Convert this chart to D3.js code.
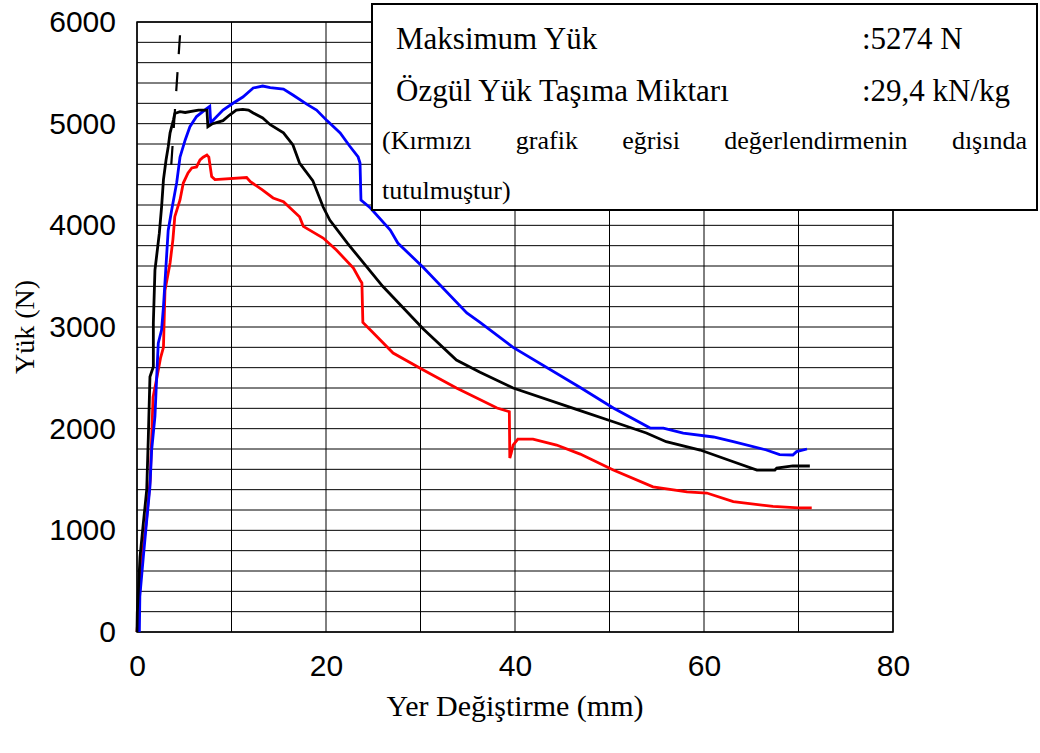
<!DOCTYPE html>
<html>
<head>
<meta charset="utf-8">
<script src="https://cdn.jsdelivr.net/npm/d3@7"></script>
<style>
  html, body { margin: 0; padding: 0; background: #fff; }
  svg { display: block; }
</style>
</head>
<body>
<svg id="chart" width="1040" height="753"></svg>
<script>
// Load–displacement curves (x: displacement in mm, y: load in N)
const blueX = [0.25, 0.3, 0.67, 1.0, 1.37, 1.55, 1.9, 2.08, 2.25, 2.6, 2.8, 3.3, 3.67, 4.2, 4.55, 5.1, 5.6, 6.3, 7.4, 7.7, 7.8, 9.1, 10.2, 11.2, 12.3, 13.3, 14.1, 15.5, 16.5, 18.0, 19.0, 20.1, 21.5, 22.5, 23.4, 23.6, 23.7, 24.7, 26.8, 27.6, 30.3, 34.9, 36.3, 39.8, 46.9, 50.4, 54.3, 55.7, 57.8, 61.0, 63.1, 66.6, 68.0, 69.4, 69.8, 70.9];
const blueY = [0, 350, 740, 1070, 1430, 1790, 2120, 2500, 2840, 2970, 3200, 3950, 4150, 4420, 4670, 4840, 4970, 5070, 5150, 5170, 5010, 5134, 5203, 5262, 5351, 5370, 5355, 5341, 5282, 5190, 5134, 5030, 4908, 4780, 4672, 4613, 4249, 4170, 3954, 3826, 3585, 3138, 3045, 2800, 2405, 2203, 2006, 2006, 1957, 1918, 1872, 1790, 1745, 1741, 1774, 1800];

const blackX = [0, 0.03, 0.32, 0.67, 1.03, 1.2, 1.37, 1.73, 1.73, 1.9, 2.36, 2.6, 2.8, 3.07, 3.3, 3.5, 3.85, 4.0, 4.55, 5.1, 6.5, 7.4, 7.5, 8.0, 9.1, 9.8, 10.5, 11.2, 11.8, 12.3, 13.3, 14.1, 15.5, 16.5, 17.2, 18.6, 19.7, 20.4, 22.3, 26.0, 30.3, 33.8, 36.3, 39.8, 46.5, 50.4, 53.9, 56.0, 59.6, 63.1, 65.6, 67.5, 67.7, 69.4, 71.2];
const blackY = [0, 190, 740, 1070, 1400, 1920, 2510, 2610, 3040, 3560, 3920, 4180, 4450, 4640, 4770, 4910, 5036, 5100, 5118, 5110, 5134, 5134, 4970, 5000, 5030, 5085, 5134, 5140, 5134, 5105, 5056, 4990, 4910, 4790, 4613, 4440, 4180, 4052, 3820, 3400, 2980, 2675, 2555, 2400, 2190, 2068, 1957, 1872, 1790, 1675, 1593, 1593, 1613, 1633, 1633];

const redX = [0, 0.14, 0.5, 1.0, 1.4, 1.7, 2.1, 2.5, 2.8, 2.96, 3.5, 3.8, 4.0, 4.55, 4.9, 5.4, 5.8, 6.3, 6.67, 7.0, 7.4, 7.6, 7.9, 8.25, 11.6, 12.0, 13.3, 14.4, 15.5, 17.2, 17.6, 19.7, 21.1, 22.9, 23.6, 23.8, 23.9, 24.7, 27.1, 30.3, 33.8, 38.1, 39.4, 39.45, 39.6, 39.8, 40.3, 41.9, 44.4, 46.9, 50.4, 54.6, 58.2, 60.3, 63.1, 67.3, 70.0, 71.4];
const redY = [0, 190, 700, 1100, 1500, 2310, 2500, 2700, 2800, 3360, 3630, 3860, 4085, 4250, 4416, 4515, 4564, 4574, 4643, 4670, 4692, 4672, 4480, 4450, 4470, 4429, 4347, 4269, 4232, 4085, 3990, 3875, 3757, 3580, 3462, 3433, 3045, 2970, 2744, 2577, 2400, 2203, 2167, 1711, 1760, 1839, 1898, 1898, 1839, 1750, 1593, 1428, 1378, 1367, 1282, 1235, 1220, 1220];

// Dashed unloading segment of the black specimen
const dashX = [4.55, 3.6];
const dashY = [5870, 4560];

// Axis ticks and labels
const xTicks = [0, 20, 40, 60, 80];
const yTicks = [0, 1000, 2000, 3000, 4000, 5000, 6000];
const xGrid = [0, 10, 20, 30, 40, 50, 60, 70, 80];
const yGridStep = 200;

const xTitle = "Yer Değiştirme (mm)";
const yTitle = "Yük (N)";
const infoLabels = ["Maksimum Yük", "Özgül Yük Taşıma Miktarı"];
const infoValues = [":5274 N", ":29,4 kN/kg"];
const noteWords = ["(Kırmızı", "grafik", "eğrisi", "değerlendirmenin", "dışında"];
const noteTail = "tutulmuştur)";

const svg = d3.select("#chart");
const plotL = 137, plotR = 893, plotT = 22, plotB = 632;

const x = d3.scaleLinear().domain([0, 80]).range([plotL, plotR]);
const y = d3.scaleLinear().domain([0, 6000]).range([plotB, plotT]);

// Grid
const grid = svg.append("g");
const yGridVals = d3.range(0, 6000 + 1, yGridStep);
grid.selectAll("line.h").data(yGridVals).join("line")
  .attr("class", "h")
  .attr("x1", plotL).attr("x2", plotR)
  .attr("y1", d => y(d)).attr("y2", d => y(d))
  .attr("stroke", "#000").attr("stroke-width", 1);
grid.selectAll("line.v").data(xGrid).join("line")
  .attr("class", "v")
  .attr("x1", d => x(d)).attr("x2", d => x(d))
  .attr("y1", plotT).attr("y2", plotB)
  .attr("stroke", "#000").attr("stroke-width", 1);
grid.append("rect")
  .attr("x", plotL).attr("y", plotT)
  .attr("width", plotR - plotL).attr("height", plotB - plotT)
  .attr("fill", "none").attr("stroke", "#000").attr("stroke-width", 1.5);

// Axes (labels only; grid carries the lines)
const sans = "'Liberation Sans', Arial, sans-serif";
const xAxis = svg.append("g").attr("transform", `translate(0,${plotB})`)
  .call(d3.axisBottom(x).tickValues(xTicks).tickFormat(d3.format("d")).tickSize(0).tickPadding(23));
xAxis.select(".domain").remove();
xAxis.selectAll("text")
  .attr("font-family", sans).attr("font-size", 30).attr("fill", "#000");

const yAxis = svg.append("g").attr("transform", `translate(${plotL},0)`)
  .call(d3.axisLeft(y).tickValues(yTicks).tickFormat(d3.format("d")).tickSize(0).tickPadding(21));
yAxis.select(".domain").remove();
yAxis.selectAll("text")
  .attr("font-family", sans).attr("font-size", 30).attr("fill", "#000");

// Curves
const line = d3.line().x(d => x(d[0])).y(d => y(d[1]));
const series = [
  { xs: redX, ys: redY, color: "#ff0000" },
  { xs: blueX, ys: blueY, color: "#0000ff" },
  { xs: blackX, ys: blackY, color: "#000000" }
];
svg.append("g").selectAll("path").data(series).join("path")
  .attr("d", s => line(s.xs.map((v, i) => [v, s.ys[i]])))
  .attr("fill", "none")
  .attr("stroke", s => s.color)
  .attr("stroke-width", 2.8)
  .attr("stroke-linejoin", "miter");

svg.append("path")
  .attr("d", line(dashX.map((v, i) => [v, dashY[i]])))
  .attr("fill", "none").attr("stroke", "#000")
  .attr("stroke-width", 2.2).attr("stroke-dasharray", "19,18");

// Info box
const box = svg.append("g");
box.append("rect")
  .attr("x", 372).attr("y", 4).attr("width", 665).attr("height", 206)
  .attr("fill", "#fff").attr("stroke", "#000").attr("stroke-width", 2);

const serif = "'Liberation Serif', 'Times New Roman', serif";
box.selectAll("text.lbl").data(infoLabels).join("text")
  .attr("class", "lbl")
  .attr("x", 396).attr("y", (d, i) => 49 + i * 52)
  .attr("font-family", serif).attr("font-size", 31).text(d => d);
box.selectAll("text.val").data(infoValues).join("text")
  .attr("class", "val")
  .attr("x", 862).attr("y", (d, i) => 49 + i * 52)
  .attr("font-family", serif).attr("font-size", 31).text(d => d);

// Justified note line
const noteG = box.append("g");
const noteTexts = noteG.selectAll("text").data(noteWords).join("text")
  .attr("y", 149).attr("font-family", serif).attr("font-size", 26).text(d => d);
const widths = noteTexts.nodes().map(n => n.getComputedTextLength());
const noteL = 382, noteR = 1027;
const gap = (noteR - noteL - d3.sum(widths)) / (noteWords.length - 1);
let cursor = noteL;
noteTexts.attr("x", (d, i) => { const p = cursor; cursor += widths[i] + gap; return p; });
box.append("text").attr("x", noteL).attr("y", 199)
  .attr("font-family", serif).attr("font-size", 26).text(noteTail);

// Axis titles
svg.append("text")
  .attr("x", 515).attr("y", 716)
  .attr("text-anchor", "middle")
  .attr("font-family", serif).attr("font-size", 30).text(xTitle);
svg.append("text")
  .attr("transform", `translate(34,${(plotT + plotB) / 2}) rotate(-90)`)
  .attr("text-anchor", "middle")
  .attr("font-family", serif).attr("font-size", 28).text(yTitle);
</script>
</body>
</html>
